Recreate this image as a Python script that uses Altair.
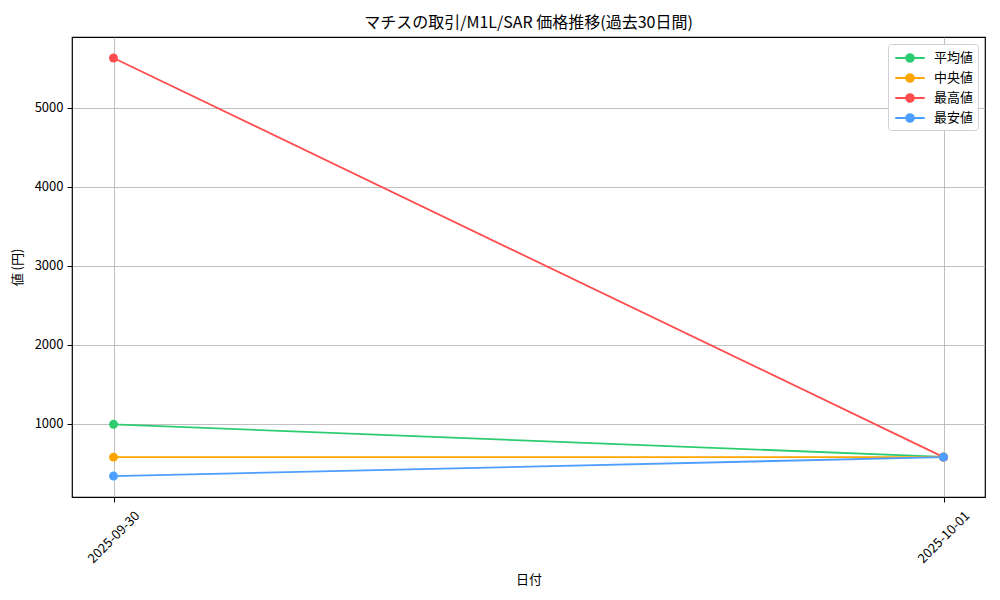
import altair as alt
import pandas as pd

dates = ["2025-09-30", "2025-10-01"]
series_names = ["平均値", "中央値", "最高値", "最安値"]
avg_vals = [995, 583]
med_vals = [580, 580]
max_vals = [5630, 580]
min_vals = [340, 580]
colors = ["#2ecc71", "#ffa500", "#ff4d4d", "#4d9eff"]
y_ticks = [1000, 2000, 3000, 4000, 5000]

rows = []
for name, vals in zip(series_names, [avg_vals, med_vals, max_vals, min_vals]):
    for d, v in zip(dates, vals):
        rows.append({"date": d + "T00:00:00Z", "series": name, "value": v})
df = pd.DataFrame(rows)

FONT = "Noto Sans CJK JP"

x_dom = [
    alt.DateTime(year=2025, month=9, date=29, hours=22, minutes=48, utc=True),
    alt.DateTime(year=2025, month=10, date=1, hours=1, minutes=12, utc=True),
]
x_vals = [
    alt.DateTime(year=2025, month=9, date=30, utc=True),
    alt.DateTime(year=2025, month=10, date=1, utc=True),
]

legend_symbol = "M-1.7,0L-0.45,0M0.45,0L1.7,0M-0.45,0A0.45,0.45 0 1,1 0.45,0A0.45,0.45 0 1,1 -0.45,0Z"

chart = (
    alt.Chart(df)
    .mark_line(strokeWidth=1.8, point=alt.OverlayMarkDef(filled=True, size=80, opacity=1))
    .encode(
        x=alt.X(
            "date:T",
            scale=alt.Scale(type="utc", domain=x_dom),
            axis=alt.Axis(
                title="日付",
                values=x_vals,
                labelExpr="utcFormat(datum.value, '%Y-%m-%d')",
                labelAngle=-45,
                labelAlign="center",
                labelBaseline="middle",
                labelPadding=35,
                titlePadding=8,
            ),
        ),
        y=alt.Y(
            "value:Q",
            scale=alt.Scale(domain=[75.5, 5895.5], nice=False, zero=False),
            axis=alt.Axis(title="値 (円)", values=y_ticks, format="d", titlePadding=10),
        ),
        color=alt.Color(
            "series:N",
            sort=series_names,
            scale=alt.Scale(domain=series_names, range=colors),
            legend=alt.Legend(
                title=None,
                orient="top-right",
                offset=7,
                fillColor="white",
                strokeColor="#d0d0d0",
                cornerRadius=3,
                padding=4,
                symbolType=legend_symbol,
                symbolSize=300,
                symbolStrokeWidth=1.8,
                symbolOffset=8,
                labelOffset=14,
                labelFontSize=13,
                labelFont=FONT,
                rowPadding=2,
            ),
        ),
        order=alt.Order("date:T"),
    )
    .properties(
        width=913,
        height=460,
        title=alt.TitleParams(
            "マチスの取引/M1L/SAR 価格推移(過去30日間)",
            font=FONT,
            fontSize=16,
            fontWeight="normal",
            anchor="middle",
            offset=6,
            color="black",
        ),
        autosize=alt.AutoSizeParams(type="none"),
        padding={"left": 64, "top": 29, "right": 5, "bottom": 95},
    )
    .configure_view(stroke="black", strokeWidth=1.2)
    .configure_axis(
        labelFont=FONT,
        titleFont=FONT,
        labelFontSize=13,
        titleFontSize=13,
        titleFontWeight="normal",
        labelColor="black",
        titleColor="black",
        domain=False,
        tickColor="black",
        tickSize=5,
        tickWidth=1,
        labelPadding=4,
        grid=True,
        gridColor="#b0b0b0",
        gridWidth=0.8,
    )
)

chart.save("out.html", embed_options={"renderer": "svg", "actions": False})
